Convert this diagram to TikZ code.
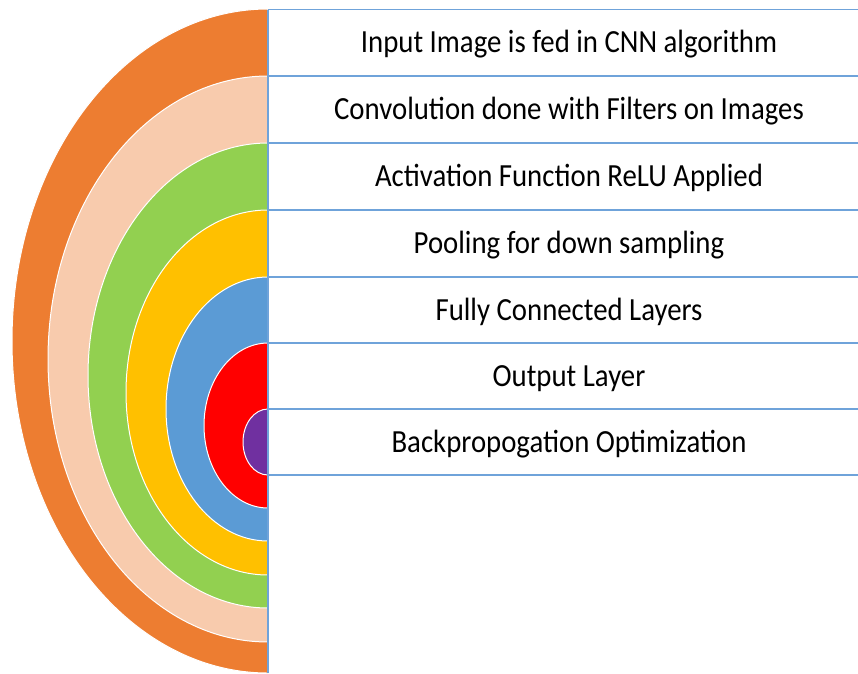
\documentclass[tikz,border=0pt]{standalone}
\usepackage{fontspec}
\usepackage{graphicx}
\setmainfont{Carlito}
\definecolor{corange}{HTML}{ED7D31}
\definecolor{cpeach}{HTML}{F8CBAD}
\definecolor{cgreen}{HTML}{92D050}
\definecolor{cyellow}{HTML}{FFC000}
\definecolor{cblue}{HTML}{5B9BD5}
\definecolor{cred}{HTML}{FF0000}
\definecolor{cpurple}{HTML}{7030A0}
\definecolor{cline}{HTML}{6FA3DA}
\tikzset{
  band/.style={draw=white, line width=1pt},
  rowline/.style={draw=cline, line width=1.6pt},
  rowtext/.style={anchor=base, inner sep=0pt, font=\fontsize{28.8}{34}\selectfont, text=black}
}
\newcommand{\halfell}[5]{% color, cy, rx, ry
  \fill[#1, band] (268pt,-#2pt+#4pt) arc[start angle=90, end angle=270, x radius=#3pt, y radius=#4pt] -- cycle;
}
\begin{document}
\begin{tikzpicture}[x=1pt,y=-1pt]
\useasboundingbox (0,0) rectangle (858,673);
\fill[white] (0,0) rectangle (858,673);
% nested half ellipses
\fill[corange, band] (268,9) arc[start angle=90, end angle=270, x radius=256pt, y radius=332pt] -- cycle;
\fill[cpeach, band] (268,76) arc[start angle=90, end angle=270, x radius=220pt, y radius=283pt] -- cycle;
\fill[cgreen, band] (268,143) arc[start angle=90, end angle=270, x radius=180pt, y radius=232.5pt] -- cycle;
\fill[cyellow, band] (268,210) arc[start angle=90, end angle=270, x radius=142pt, y radius=182.5pt] -- cycle;
\fill[cblue, band] (268,277) arc[start angle=90, end angle=270, x radius=102pt, y radius=132pt] -- cycle;
\fill[cred, band] (268,343) arc[start angle=90, end angle=270, x radius=64pt, y radius=82.5pt] -- cycle;
\fill[cpurple, band] (268,409) arc[start angle=90, end angle=270, x radius=25pt, y radius=33pt] -- cycle;
% table grid
\coordinate (vt) at (268,9.5);
\coordinate (vb) at (268,673);
\foreach \i/\y in {0/9.5,1/76,2/143,3/210,4/277,5/343,6/409,7/475}{
  \coordinate (l\i) at (268,\y);
  \coordinate (r\i) at (858,\y);
  \draw[rowline] (l\i) -- (r\i);
}
\draw[rowline] (vt) -- (vb);
% texts
\node[rowtext] (t1) at (569,52.5) {\scalebox{1}[1.12]{Input Image is fed in CNN algorithm}};
\node[rowtext] (t2) at (569,119) {\scalebox{1}[1.12]{Convolution done with Filters on Images}};
\node[rowtext] (t3) at (569,186) {\scalebox{1}[1.12]{Activation Function ReLU Applied}};
\node[rowtext] (t4) at (569,253) {\scalebox{1}[1.12]{Pooling for down sampling}};
\node[rowtext] (t5) at (569,320) {\scalebox{1}[1.12]{Fully Connected Layers}};
\node[rowtext] (t6) at (569,386) {\scalebox{1}[1.12]{Output Layer}};
\node[rowtext] (t7) at (569,452) {\scalebox{1}[1.12]{Backpropogation Optimization}};
\end{tikzpicture}
\end{document}
